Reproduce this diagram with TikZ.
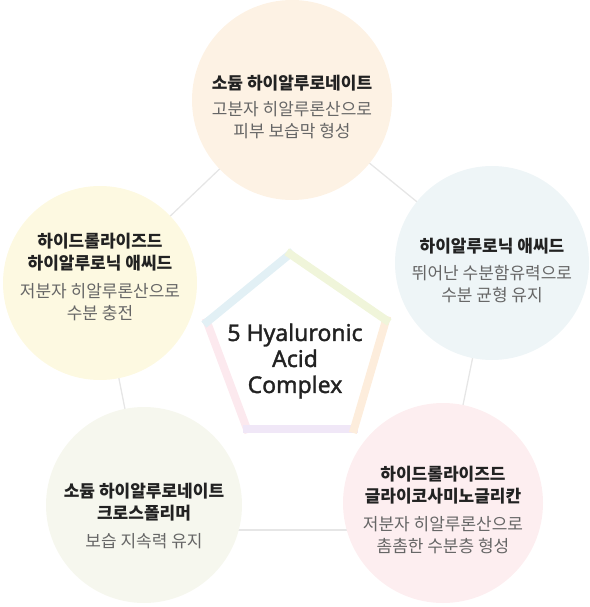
\documentclass[tikz,border=0pt]{standalone}
\usepackage{fontspec}
\setmainfont{Noto Sans CJK KR}
\newfontfamily\latinfont[BoldFont={Noto Sans},BoldFeatures={FakeBold=1.5}]{Noto Sans}
\usetikzlibrary{calc,backgrounds}
\definecolor{peach}{HTML}{FDF2E4}
\definecolor{lemon}{HTML}{FDF9E1}
\definecolor{skyblue}{HTML}{EEF5F7}
\definecolor{ivory}{HTML}{F6F7EE}
\definecolor{blush}{HTML}{FDEEF0}
\definecolor{linegray}{HTML}{E6E6E6}
\definecolor{titlegray}{HTML}{222222}
\definecolor{descgray}{HTML}{666666}
\definecolor{rimblue}{HTML}{E2F0F5}
\definecolor{rimlime}{HTML}{F0F5DA}
\definecolor{rimpeach}{HTML}{FDEDDC}
\definecolor{rimlilac}{HTML}{F0E7F7}
\definecolor{rimpink}{HTML}{FCE9EE}
\begin{document}
\begin{tikzpicture}[x=1pt,y=-1pt,
    bubble/.style={circle,inner sep=0pt,minimum size=#1},
    caption/.style={font=\fontsize{17}{22}\selectfont,text=titlegray,align=center,inner sep=0pt},
    link/.style={draw=linegray,line width=1.3pt},
    rim/.style={line width=8pt,line cap=rect}]
    \useasboundingbox (0,0) rectangle (589,607);

    \node[bubble=200pt,fill=peach] (sodium) at (292,100) {};
    \node[bubble=194pt,fill=lemon] (hydro) at (100,283) {};
    \node[bubble=194pt,fill=skyblue] (acid) at (492,263) {};
    \node[bubble=196pt,fill=ivory] (cross) at (144,505) {};
    \node[bubble=200pt,fill=blush] (glucan) at (443,503) {};

    \begin{scope}[on background layer]
        \draw[link] (hydro.center) -- (sodium.center) -- (acid.center) -- (glucan.center);
        \draw[link] (hydro.center) -- (cross.center);
        \draw[link] ([yshift=-25pt]cross.center) -- ([yshift=-27pt]glucan.center);
    \end{scope}

    \coordinate (p1) at (290,254);
    \coordinate (p2) at (386,320);
    \coordinate (p3) at (354,429);
    \coordinate (p4) at (247,429);
    \coordinate (p5) at (207,322);
    \draw[rim,draw=rimpink] (p4) -- (p5);
    \draw[rim,draw=rimlilac] (p3) -- (p4);
    \draw[rim,draw=rimpeach] (p2) -- (p3);
    \draw[rim,draw=rimblue] (p5) -- (p1);
    \draw[rim,draw=rimlime] (p1) -- (p2);

    \node[font=\latinfont\bfseries\fontsize{23}{26}\selectfont,text=titlegray,align=center] (core) at (295,361)
        {5 Hyaluronic\\Acid\\Complex};

    \node[caption] (t1) at ($(sodium)+(0,7)$)
        {\textbf{소듐 하이알루로네이트}\\[4pt]\textcolor{descgray}{고분자 히알루론산으로}\\\textcolor{descgray}{피부 보습막 형성}};
    \node[caption] (t2) at ($(hydro)+(0,-6)$)
        {\textbf{하이드롤라이즈드}\\\textbf{하이알루로닉 애씨드}\\[6pt]\textcolor{descgray}{저분자 히알루론산으로}\\\textcolor{descgray}{수분 충전}};
    \node[caption] (t3) at ($(acid)+(0,7)$)
        {\textbf{하이알루로닉 애씨드}\\[5pt]\textcolor{descgray}{뛰어난 수분함유력으로}\\\textcolor{descgray}{수분 균형 유지}};
    \node[caption] (t4) at ($(cross)+(0,11)$)
        {\textbf{소듐 하이알루로네이트}\\\textbf{크로스폴리머}\\[6pt]\textcolor{descgray}{보습 지속력 유지}};
    \node[caption] (t5) at ($(glucan)+(0,7)$)
        {\textbf{하이드롤라이즈드}\\\textbf{글라이코사미노글리칸}\\[6pt]\textcolor{descgray}{저분자 히알루론산으로}\\\textcolor{descgray}{촘촘한 수분층 형성}};
\end{tikzpicture}
\end{document}
